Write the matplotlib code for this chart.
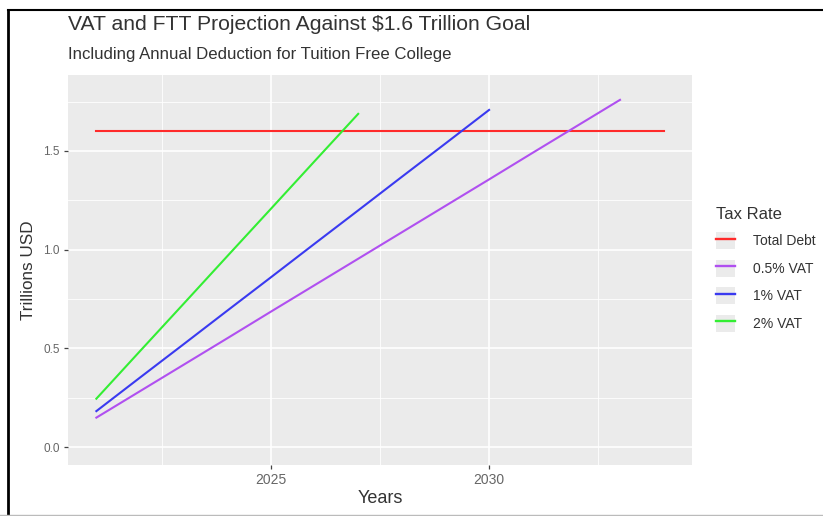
import matplotlib
matplotlib.use("Agg")
import matplotlib.pyplot as plt
from matplotlib.lines import Line2D
from matplotlib.patches import Rectangle
from matplotlib.ticker import MultipleLocator

plt.rcParams['font.family'] = ['Liberation Sans', 'DejaVu Sans']

# values (trillions USD)
years_debt = [2021, 2034]
total_debt = [1.6, 1.6]

years_half = list(range(2021, 2034))
vat_half = [0.149, 0.283, 0.417, 0.551, 0.686, 0.820, 0.954, 1.088, 1.222,
            1.356, 1.491, 1.625, 1.759]

years_one = list(range(2021, 2031))
vat_one = [0.182, 0.352, 0.521, 0.691, 0.860, 1.030, 1.199, 1.369, 1.538, 1.708]

years_two = list(range(2021, 2028))
vat_two = [0.245, 0.486, 0.726, 0.967, 1.207, 1.448, 1.688]

labels = ["Total Debt", "0.5% VAT", "1% VAT", "2% VAT"]
colors = ["#FF2A2A", "#B050F0", "#3A3AF0", "#33EE33"]

fig = plt.figure(figsize=(8.23, 5.16), dpi=100)
ax = fig.add_axes([68/823, 51/516, 624/823, 390/516])
ax.set_facecolor("#EBEBEB")

lw = 1.5
ax.plot(years_debt, total_debt, color=colors[0], lw=lw)
ax.plot(years_half, vat_half, color=colors[1], lw=lw)
ax.plot(years_one, vat_one, color=colors[2], lw=lw)
ax.plot(years_two, vat_two, color=colors[3], lw=lw)

ax.set_xlim(2020.35, 2034.65)
ax.set_ylim(-0.091, 1.885)
ax.xaxis.set_major_locator(MultipleLocator(5))
ax.xaxis.set_minor_locator(MultipleLocator(2.5))
ax.yaxis.set_major_locator(MultipleLocator(0.5))
ax.yaxis.set_minor_locator(MultipleLocator(0.25))
ax.yaxis.set_major_formatter(plt.FuncFormatter(lambda v, p: f"{v:.1f}"))

ax.grid(which="major", color="white", lw=1.2)
ax.grid(which="minor", color="white", lw=0.6)
ax.set_axisbelow(True)
for s in ax.spines.values():
    s.set_visible(False)
ax.tick_params(which="major", colors="#444444", labelcolor="#666666",
               length=3, width=0.9)
ax.tick_params(axis="x", labelsize=10, pad=3)
ax.tick_params(axis="y", labelsize=8.5, pad=3)
ax.tick_params(which="minor", length=0)

ax.set_xlabel("Years", fontsize=13, color="#333333", labelpad=2)
ax.set_ylabel("Trillions USD", fontsize=12.3, color="#333333", labelpad=5)

fig.text(68/823, 1 - 25/516, "VAT and FTT Projection Against \\$1.6 Trillion Goal",
         fontsize=15.2, color="#333333", va="center", ha="left")
fig.text(68/823, 1 - 55/516, "Including Annual Deduction for Tuition Free College",
         fontsize=12.1, color="#333333", va="center", ha="left")

handles = []
for c in colors:
    bg = Rectangle((0, 0), 1, 1, facecolor="#EBEBEB", edgecolor="none")
    ln = Line2D([], [], color=c, lw=1.7)
    handles.append((bg, ln))
leg = fig.legend(handles, labels, title="Tax Rate", loc="center left",
                 bbox_to_anchor=(716/823, 1 - 269/516), frameon=False,
                 fontsize=10, title_fontsize=12, handlelength=1.4,
                 handleheight=1.5, labelspacing=0.76, handletextpad=1.25,
                 borderaxespad=0, borderpad=0)
leg._legend_box.align = "left"
leg.get_title().set_color("#333333")
for t in leg.get_texts():
    t.set_color("#333333")

# screenshot frame
fig.add_artist(Line2D([8/823, 1], [1 - 10/516, 1 - 10/516], color="black",
                      lw=1.5, transform=fig.transFigure))
fig.add_artist(Line2D([8/823, 8/823], [0, 1 - 10/516], color="black",
                      lw=2, transform=fig.transFigure))
fig.add_artist(Line2D([0, 1], [1/516, 1/516], color="#BBBBBB",
                      lw=1, transform=fig.transFigure))

fig.savefig("out.png", dpi=100)
